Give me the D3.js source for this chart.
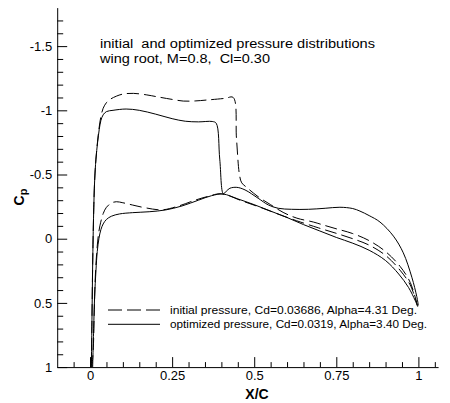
<!DOCTYPE html>
<html lang="en">
<head>
    <meta charset="UTF-8">
    <title>Cp distributions</title>
    <script src="https://d3js.org/d3.v7.min.js"></script>
    <style>
        body { margin: 0; background: #fff; }
        svg { font-family: "Liberation Sans", Arial, sans-serif; }
        .curve { fill: none; stroke: #000; stroke-width: 1; }
    </style>
</head>
<body>
    <svg width="450" height="403"></svg>

    <script>
        // [x/c, Cp]
        const optUpper = [
            [0.004, 1.0], [0.006, 0.6], [0.008, 0.2], [0.011, -0.2], [0.014, -0.45],
            [0.018, -0.62], [0.023, -0.75], [0.028, -0.85], [0.033, -0.92], [0.04, -0.965],
            [0.05, -0.99], [0.07, -1.0], [0.11, -1.01], [0.15, -1.0], [0.2, -0.97],
            [0.25, -0.935], [0.29, -0.915], [0.33, -0.91], [0.372, -0.913], [0.384, -0.9],
            [0.395, -0.62], [0.406, -0.35], [0.415, -0.37], [0.426, -0.393], [0.447, -0.40],
            [0.472, -0.38], [0.512, -0.315], [0.543, -0.263], [0.573, -0.237], [0.614, -0.229],
            [0.665, -0.229], [0.716, -0.237], [0.761, -0.245], [0.8, -0.235], [0.822, -0.215],
            [0.85, -0.18], [0.883, -0.13], [0.924, -0.02], [0.954, 0.11], [0.98, 0.3],
            [0.995, 0.45], [1.0, 0.52]
        ];
        const optLower = [
            [0.008, 1.0], [0.011, 0.7], [0.014, 0.45], [0.018, 0.25], [0.022, 0.1],
            [0.027, 0.0], [0.033, -0.07], [0.04, -0.115], [0.05, -0.15], [0.065, -0.175],
            [0.09, -0.193], [0.13, -0.203], [0.18, -0.21], [0.23, -0.224], [0.28, -0.255],
            [0.33, -0.3], [0.37, -0.335], [0.405, -0.348], [0.45, -0.31], [0.5, -0.265],
            [0.55, -0.215], [0.6, -0.165], [0.65, -0.11], [0.7, -0.06], [0.75, -0.01],
            [0.8, 0.035], [0.85, 0.09], [0.9, 0.17], [0.94, 0.275], [0.97, 0.38],
            [0.99, 0.48], [0.998, 0.53]
        ];
        const initUpper = [
            [0.004, 1.0], [0.006, 0.6], [0.008, 0.2], [0.011, -0.2], [0.014, -0.45],
            [0.018, -0.62], [0.023, -0.76], [0.028, -0.87], [0.033, -0.95], [0.04, -1.016],
            [0.05, -1.06], [0.061, -1.085], [0.08, -1.11], [0.101, -1.127], [0.132, -1.132],
            [0.173, -1.12], [0.203, -1.106], [0.25, -1.085], [0.284, -1.072], [0.32, -1.073],
            [0.355, -1.08], [0.411, -1.093], [0.436, -1.1], [0.446, -0.78], [0.455, -0.5],
            [0.462, -0.435], [0.477, -0.4], [0.512, -0.327], [0.55, -0.265], [0.588, -0.205],
            [0.63, -0.16], [0.68, -0.13], [0.71, -0.107], [0.746, -0.08], [0.8, -0.04],
            [0.85, 0.015], [0.9, 0.1], [0.944, 0.215], [0.975, 0.34], [0.997, 0.52]
        ];
        const initLower = [
            [0.006, 1.0], [0.01, 0.85], [0.013, 0.55], [0.016, 0.3], [0.02, 0.12],
            [0.025, -0.02], [0.03, -0.1], [0.04, -0.195], [0.05, -0.245], [0.065, -0.278],
            [0.08, -0.288], [0.1, -0.28], [0.13, -0.262], [0.17, -0.24], [0.22, -0.225],
            [0.27, -0.255], [0.32, -0.3], [0.36, -0.33], [0.4, -0.35], [0.462, -0.295],
            [0.523, -0.24], [0.58, -0.185], [0.629, -0.14], [0.695, -0.085], [0.746, -0.045],
            [0.8, 0.0], [0.85, 0.05], [0.9, 0.13], [0.944, 0.245], [0.975, 0.36],
            [0.997, 0.52]
        ];

        const xTicks = [0, 0.25, 0.5, 0.75, 1];
        const xTickLabels = ["0", "0.25", "0.5", "0.75", "1"];
        const yTicks = [-1.5, -1, -0.5, 0, 0.5, 1];
        const yTickLabels = ["-1.5", "-1", "-0.5", "0", "0.5", "1"];
        const titleLines = ["initial  and optimized pressure distributions", "wing root, M=0.8,  Cl=0.30"];
        const legendLabels = [
            "initial pressure, Cd=0.03686, Alpha=4.31 Deg.",
            "optimized pressure, Cd=0.0319, Alpha=3.40 Deg."
        ];

        const svg = d3.select("svg");

        const x = d3.scaleLinear().domain([-0.1, 1.06]).range([57.2, 438.1]);
        const y = d3.scaleLinear().domain([-1.8, 1]).range([7.6, 367.1]);

        const xMinor = d3.range(-0.05, 1.06, 0.05).filter(v => !xTicks.some(t => Math.abs(t - v) < 1e-6));
        const yMinor = d3.range(-1.7, 1, 0.1).filter(v => !yTicks.some(t => Math.abs(t - v) < 1e-6));

        // minor ticks
        svg.append("g")
            .attr("transform", `translate(0,${y(1)})`)
            .call(d3.axisBottom(x).tickValues(xMinor).tickSizeInner(-5).tickSizeOuter(0).tickFormat(""))
            .call(g => g.select(".domain").remove());
        svg.append("g")
            .attr("transform", `translate(${x(-0.1)},0)`)
            .call(d3.axisLeft(y).tickValues(yMinor).tickSizeInner(-6).tickSizeOuter(0).tickFormat(""))
            .call(g => g.select(".domain").remove());

        // major ticks and labels
        svg.append("g")
            .attr("transform", `translate(0,${y(1)})`)
            .call(d3.axisBottom(x).tickValues(xTicks).tickSizeInner(-10).tickSizeOuter(0)
                .tickPadding(4).tickFormat((d, i) => xTickLabels[i]));
        svg.append("g")
            .attr("transform", `translate(${x(-0.1)},0)`)
            .call(d3.axisLeft(y).tickValues(yTicks).tickSizeInner(-10).tickSizeOuter(0)
                .tickPadding(5).tickFormat((d, i) => yTickLabels[i]));

        svg.selectAll(".tick text")
            .attr("fill", "#000")
            .style("font-size", "13px")
            .style("font-family", "'Liberation Sans', Arial, sans-serif");
        svg.selectAll(".tick line, .domain").attr("stroke", "#000");

        // axis titles
        svg.append("text")
            .attr("x", 257).attr("y", 399)
            .attr("text-anchor", "middle")
            .style("font-size", "14px").style("font-weight", "bold")
            .text("X/C");

        const cp = svg.append("text")
            .attr("transform", "translate(24,197) rotate(-90)")
            .attr("text-anchor", "middle")
            .style("font-size", "14px").style("font-weight", "bold");
        cp.append("tspan").text("C");
        cp.append("tspan").attr("dy", 3).style("font-size", "11px").text("p");

        // title (the source text is drawn wide, so stretch it to the same span)
        const titleWidths = [275, 170];
        svg.append("g").selectAll("text")
            .data(titleLines)
            .join("text")
            .attr("x", 100)
            .attr("y", (d, i) => 48 + i * 15)
            .attr("textLength", (d, i) => titleWidths[i])
            .attr("lengthAdjust", "spacingAndGlyphs")
            .style("font-size", "12.5px")
            .style("white-space", "pre")
            .text(d => d);

        // curves
        const line = d3.line()
            .x(d => x(d[0]))
            .y(d => y(d[1]))
            .curve(d3.curveCatmullRom.alpha(0.5));

        [initUpper, initLower].forEach(d => {
            svg.append("path").datum(d).attr("class", "curve")
                .attr("stroke-dasharray", "12,5").attr("d", line);
        });
        [optUpper, optLower].forEach(d => {
            svg.append("path").datum(d).attr("class", "curve").attr("d", line);
        });

        // legend
        const legendWidths = [247, 257];
        const legend = svg.append("g");
        legendLabels.forEach((label, i) => {
            const ly = 310 + i * 14.3;
            legend.append("line")
                .attr("x1", 108).attr("x2", 160)
                .attr("y1", ly).attr("y2", ly)
                .attr("stroke", "#000")
                .attr("stroke-dasharray", i === 0 ? "14,5" : null);
            legend.append("text")
                .attr("x", 170).attr("y", ly + 3.5)
                .attr("textLength", legendWidths[i])
                .attr("lengthAdjust", "spacingAndGlyphs")
                .style("font-size", "10.5px")
                .text(label);
        });
    </script>
</body>
</html>
